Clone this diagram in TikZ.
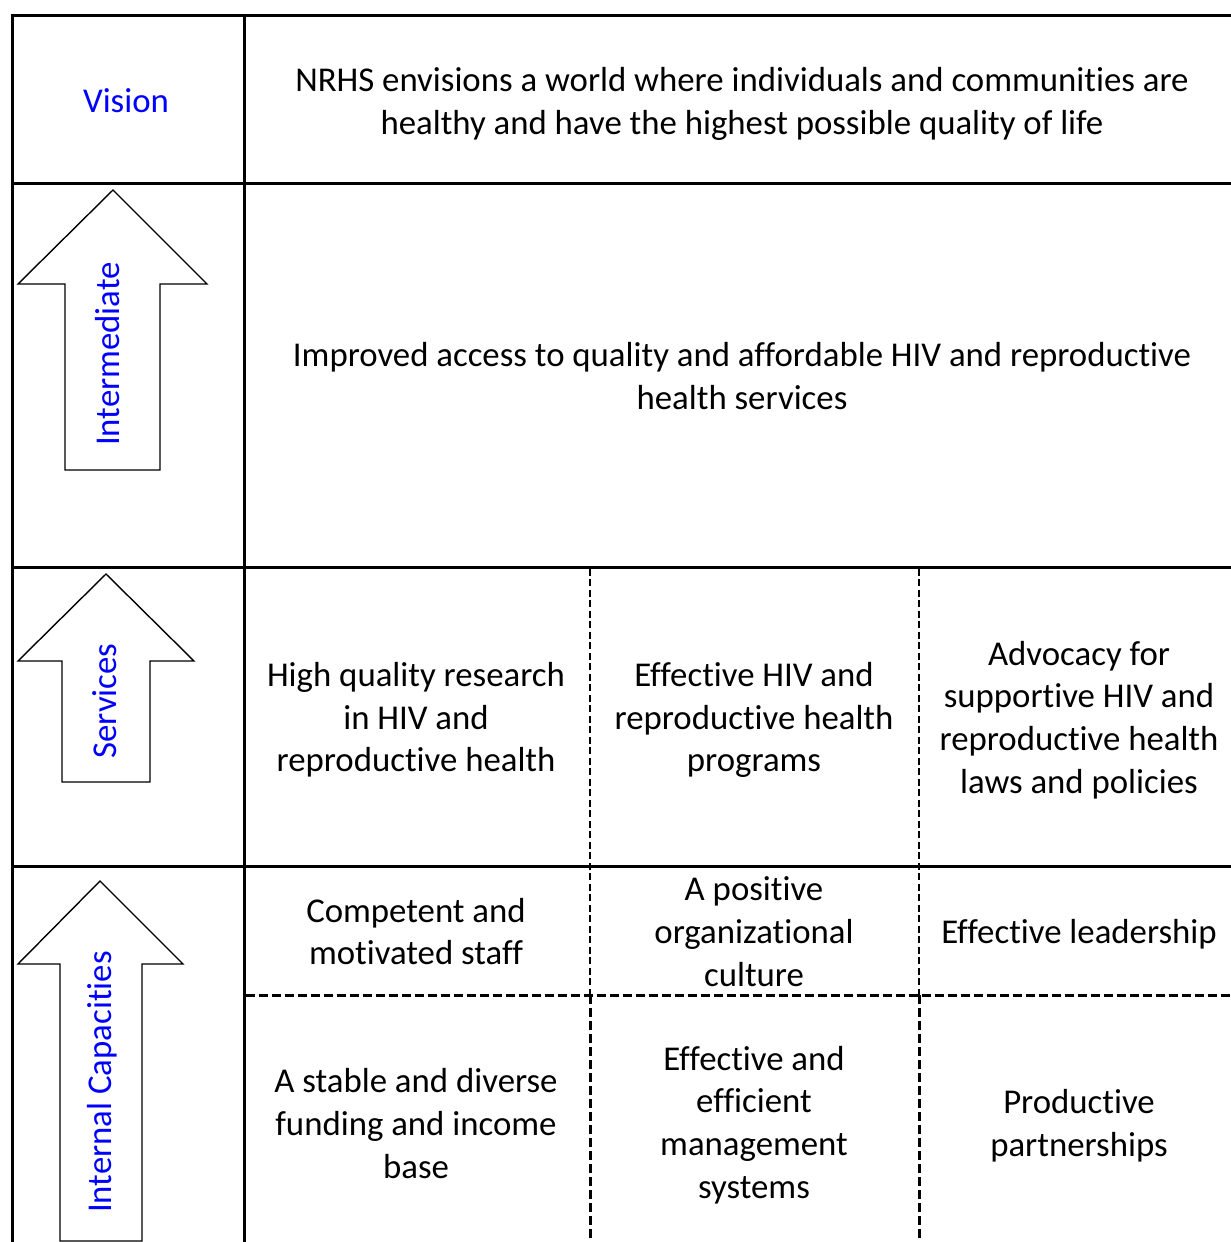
\documentclass[tikz,border=0pt]{standalone}
\usepackage{fontspec}
\setmainfont[Ligatures=NoCommon]{Carlito}
\definecolor{labelblue}{RGB}{0,0,255}
\begin{document}
\begin{tikzpicture}[x=1pt,y=-1pt,
  rule/.style={line width=3pt},
  thindash/.style={line width=2pt,dash pattern=on 7pt off 3.5pt},
  thickdash/.style={line width=3pt,dash pattern=on 9pt off 4pt},
  arrowshape/.style={draw=black,line width=1.4pt,fill=white,line join=miter},
  cell/.style={align=center,font=\fontsize{34.8}{42.7}\selectfont,inner sep=0pt},
  tag/.style={cell,text=labelblue}]
\useasboundingbox (0,0) rectangle (1231,1242);
\clip (0,0) rectangle (1231,1242);

% table rules
\draw[rule] (12,15) -- (1240,15);
\draw[rule] (12,183) -- (1240,183);
\draw[rule] (12,567) -- (1240,567);
\draw[rule] (12,866) -- (1240,866);
\draw[rule] (12,13.5) -- (12,1250);
\draw[rule] (244,13.5) -- (244,1250);
\draw[rule] (1240,13.5) -- (1240,1250);

% dashed dividers between the columns and rows of the lower part
\draw[thindash] (590,568.5) -- (590,995);
\draw[thindash] (919,568.5) -- (919,995);
\draw[thickdash] (590,995) -- (590,1250);
\draw[thickdash] (919,995) -- (919,1250);
\draw[thickdash] (245.5,995) -- (1240,995);

% block arrows of the first column
\draw[arrowshape] (113,190) -- (207,284) -- (160,284) -- (160,470) -- (65,470) -- (65,284) -- (18,284) -- cycle;
\draw[arrowshape] (106,574) -- (194,661) -- (150,661) -- (150,782) -- (62,782) -- (62,661) -- (18,661) -- cycle;
\draw[arrowshape] (100,881) -- (183,964) -- (142,964) -- (142,1241) -- (60,1241) -- (60,964) -- (18,964) -- cycle;

% first column labels
\node[tag] (vision) at (126,100.5) {Vision};
\node[tag,rotate=90] (intermediate) at (108,354) {Intermediate};
\node[tag,rotate=90] (services) at (105,701) {Services};
\node[tag,rotate=90] (internal) at (102,1082) {Internal Capacities};

% statement cells
\node[cell] (visiontext) at (742,104) {NRHS envisions a world where individuals and communities are\\healthy and have the highest possible quality of life};
\node[cell] (access) at (742,376) {Improved access to quality and affordable HIV and reproductive\\health services};

\node[cell] (research) at (416,720) {High quality research\\in HIV and\\reproductive health};
\node[cell] (programs) at (754,720) {Effective HIV and\\reproductive health\\programs};
\node[cell] (advocacy) at (1079,720) {Advocacy for\\supportive HIV and\\reproductive health\\laws and policies};

\node[cell] (staff) at (416,931.5) {Competent and\\motivated staff};
\node[cell] (culture) at (754,931.5) {A positive\\organizational\\culture};
\node[cell] (leadership) at (1079,934) {Effective leadership};

\node[cell] (funding) at (416,1123.5) {A stable and diverse\\funding and income\\base};
\node[cell] (management) at (754,1125) {Effective and\\efficient\\management\\systems};
\node[cell] (partnerships) at (1079,1126) {Productive\\partnerships};
\end{tikzpicture}
\end{document}
